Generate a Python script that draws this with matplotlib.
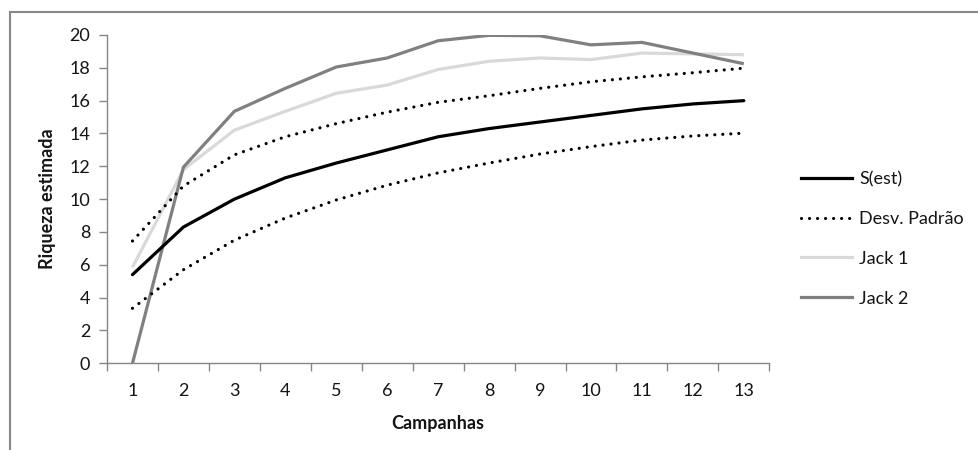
import matplotlib
matplotlib.use("Agg")
import matplotlib.pyplot as plt
from matplotlib.patches import Rectangle
from matplotlib.ticker import MultipleLocator, FixedLocator

plt.rcParams['font.family'] = ['Lato', 'DejaVu Sans']

# Species richness estimates per sampling campaign
campanhas = list(range(1, 14))
s_est = [5.4, 8.3, 10.0, 11.3, 12.2, 13.0, 13.8, 14.3, 14.7, 15.1, 15.5, 15.8, 16.0]
desv_sup = [7.45, 10.8, 12.7, 13.8, 14.6, 15.3, 15.9, 16.3, 16.75, 17.15, 17.45, 17.7, 17.98]
desv_inf = [3.35, 5.7, 7.5, 8.85, 9.95, 10.85, 11.6, 12.2, 12.75, 13.2, 13.6, 13.85, 14.02]
jack1 = [5.85, 11.8, 14.2, 15.35, 16.45, 16.95, 17.9, 18.4, 18.6, 18.5, 18.9, 18.85, 18.8]
jack2 = [0.0, 11.95, 15.35, 16.75, 18.05, 18.6, 19.65, 19.98, 19.95, 19.4, 19.55, 18.9, 18.25]

labels = ['S(est)', 'Desv. Padrão', 'Jack 1', 'Jack 2']

W, H = 979, 450
fig = plt.figure(figsize=(W / 100, H / 100), dpi=100)
ax = fig.add_axes([107 / W, 1 - 363.3 / H, 662.3 / W, 328.3 / H])

fs = 13
lw = 2.3
dot_style = (0, (0.01, 2.5))
txt_color = '#141414'
axis_color = '#868686'

ax.plot(campanhas, jack1, color='#d9d9d9', lw=lw, solid_capstyle='butt', zorder=2)
ax.plot(campanhas, jack2, color='#808080', lw=lw, solid_capstyle='butt', zorder=3)
ax.plot(campanhas, desv_sup, color='black', lw=lw, linestyle=dot_style,
        dash_capstyle='round', zorder=4)
ax.plot(campanhas, desv_inf, color='black', lw=lw, linestyle=dot_style,
        dash_capstyle='round', zorder=4)
ax.plot(campanhas, s_est, color='black', lw=lw, solid_capstyle='round', zorder=5)

ax.set_xlim(0.5, 13.5)
ax.set_ylim(0, 20)

# Category axis: labels at integers, tick marks between categories
ax.xaxis.set_major_locator(FixedLocator(campanhas))
ax.xaxis.set_minor_locator(MultipleLocator(1, offset=0.5))
ax.tick_params(axis='x', which='major', length=0, pad=14, labelsize=fs, labelcolor=txt_color)
ax.tick_params(axis='x', which='minor', length=6, width=1, color=axis_color, direction='out')
ax.yaxis.set_major_locator(MultipleLocator(2))
ax.tick_params(axis='y', which='major', length=6, width=1, color=axis_color,
               direction='out', pad=6, labelsize=fs, labelcolor=txt_color)

for side in ('top', 'right'):
    ax.spines[side].set_visible(False)
for side in ('left', 'bottom'):
    ax.spines[side].set_color(axis_color)
    ax.spines[side].set_linewidth(1)

ax.set_xlabel('Campanhas', fontsize=fs, fontweight='bold', color=txt_color)
ax.set_ylabel('Riqueza estimada', fontsize=fs, fontweight='bold', color=txt_color)
ax.xaxis.set_label_coords(0.5, (363.3 - 423) / 328.3)
ax.yaxis.set_label_coords((48 - 107) / 662.3, 0.5)
ax.xaxis.label.set_va('center')
ax.yaxis.label.set_va('center')

# Legend built from proxy lines
h1, = ax.plot([], [], color='black', lw=lw)
h2, = ax.plot([], [], color='black', lw=lw, linestyle=dot_style, dash_capstyle='round')
h3, = ax.plot([], [], color='#d9d9d9', lw=lw)
h4, = ax.plot([], [], color='#808080', lw=lw)
leg = fig.legend([h1, h2, h3, h4], labels, loc='upper left',
                 bbox_to_anchor=(801 / W, 1 - 171 / H), frameon=False,
                 fontsize=fs, handlelength=2.8, handletextpad=0.42,
                 labelspacing=1.32, borderaxespad=0, borderpad=0)
for t in leg.get_texts():
    t.set_color(txt_color)

# Chart area border
fig.add_artist(Rectangle((10 / W, -0.1), 1.2, 1.1 - 12 / H, transform=fig.transFigure,
                         fill=False, edgecolor='#888888', linewidth=1.5, zorder=0))

fig.savefig('out.png', dpi=100)
